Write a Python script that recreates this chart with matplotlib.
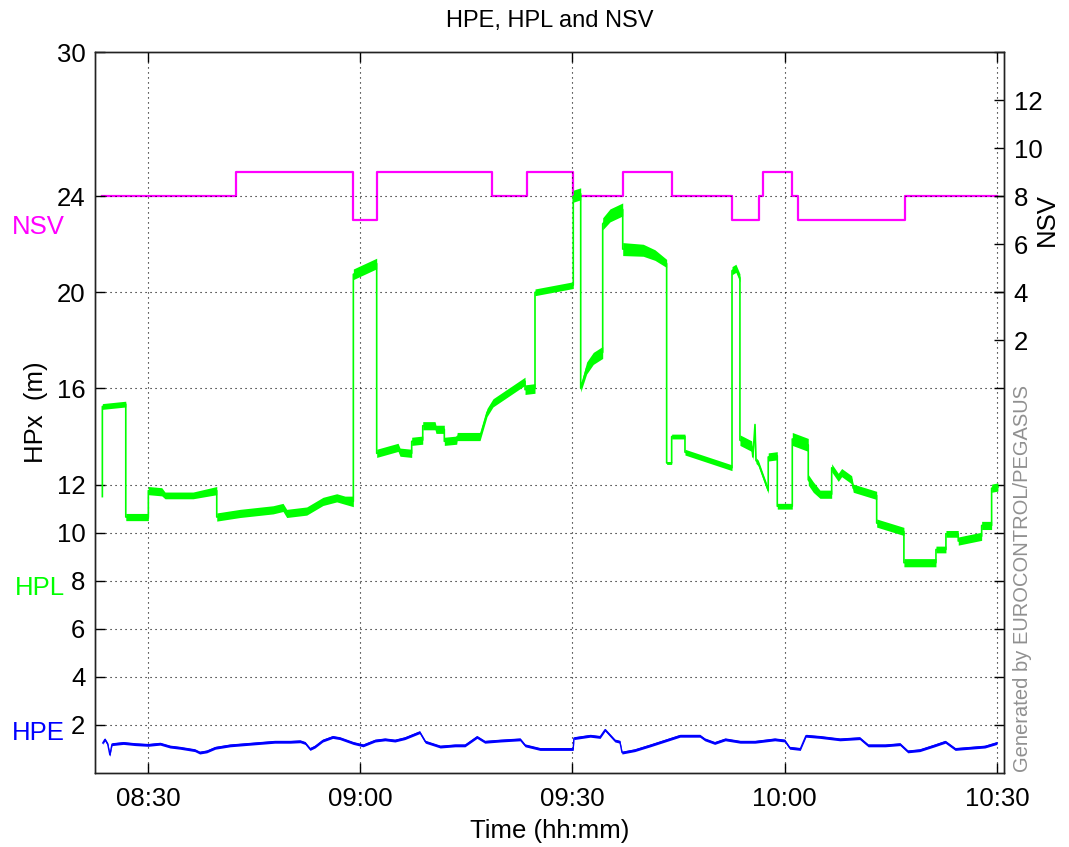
import matplotlib
matplotlib.use('Agg')
import matplotlib.pyplot as plt
import matplotlib.transforms as mtransforms
import numpy as np

plt.rcParams['font.family'] = ['Liberation Sans', 'DejaVu Sans']

# ---------------- data (time in minutes after 08:00) ----------------
title = 'HPE, HPL and NSV'
x_label = 'Time (hh:mm)'
y_label = 'HPx  (m)'
y2_label = 'NSV'
watermark = 'Generated by EUROCONTROL/PEGASUS'
x_tick_labels = ['08:30', '09:00', '09:30', '10:00', '10:30']
y_ticks = [2, 4, 6, 8, 10, 12, 16, 20, 24, 30]
y2_ticks = [2, 4, 6, 8, 10, 12]

# NSV (steps)
nsv_t = [23.5, 42.5, 59.0, 62.3, 78.6, 83.5, 90.1, 97.1, 104.0, 112.5,
         116.3, 116.9, 121.1, 121.9, 137.0, 150.0]
nsv_v = [8, 9, 7, 9, 8, 9, 8, 9, 8, 7, 8, 9, 8, 7, 8, 8]

# HPL (centre of noisy band) and half-width of band
hpl_t = [23.54, 23.54, 26.85, 26.85, 30.04, 30.04, 31.94, 32.4, 36.36, 39.71,
         39.71, 43.0, 47.67, 49.08, 49.6, 52.43, 54.73, 56.67, 57.84, 59.02,
         59.02, 62.32, 62.32, 65.34, 65.62, 67.27, 67.27, 68.83, 68.83, 70.57,
         70.7, 71.88, 71.88, 73.63, 73.7, 76.93, 77.92, 78.76, 83.29, 83.29,
         84.7, 84.7, 90.11, 90.11, 91.16, 91.16, 92.0, 92.94, 94.27, 94.27,
         95.3, 97.1, 97.1, 100.0, 101.66, 103.31, 103.31, 104.02, 104.02, 105.9,
         105.9, 112.55, 112.55, 113.1, 113.67, 113.67, 115.33, 115.5, 115.8, 115.94,
         116.26, 117.67, 117.67, 118.95, 118.95, 121.07, 121.07, 123.33, 123.33, 124.03,
         124.98, 126.64, 126.64, 127.57, 128.05, 129.46, 129.69, 133.0, 133.0, 136.85,
         136.85, 141.38, 141.38, 142.79, 142.79, 144.53, 144.53, 147.84, 147.84, 149.25,
         149.25, 150.14]
hpl_v = [11.5, 15.25, 15.35, 10.65, 10.65, 11.75, 11.7, 11.55, 11.55, 11.75,
         10.65, 10.8, 10.95, 11.05, 10.8, 10.9, 11.3, 11.45, 11.35, 11.3,
         20.75, 21.2, 13.3, 13.55, 13.35, 13.3, 13.8, 13.85, 14.45, 14.45,
         14.3, 14.3, 13.8, 13.85, 14.0, 14.0, 15.0, 15.4, 16.3, 15.95,
         16.0, 20.0, 20.3, 24.0, 24.1, 16.0, 16.85, 17.25, 17.5, 22.85,
         23.2, 23.45, 21.8, 21.75, 21.55, 21.2, 12.9, 12.9, 14.0, 14.0,
         13.35, 12.7, 20.9, 21.0, 20.6, 13.85, 13.6, 13.15, 14.5, 13.0,
         12.9, 11.75, 13.15, 13.2, 11.1, 11.1, 13.9, 13.65, 12.2, 11.9,
         11.6, 11.6, 12.7, 12.3, 12.5, 12.2, 11.85, 11.55, 10.4, 10.05,
         8.75, 8.75, 9.3, 9.3, 9.95, 9.95, 9.65, 9.85, 10.3, 10.3,
         11.85, 11.9]
hpl_w = [0.0, 0.12, 0.12, 0.15, 0.15, 0.17, 0.17, 0.14, 0.14, 0.17,
         0.17, 0.17, 0.17, 0.17, 0.17, 0.17, 0.17, 0.17, 0.17, 0.22,
         0.22, 0.22, 0.17, 0.17, 0.17, 0.17, 0.17, 0.17, 0.17, 0.17,
         0.17, 0.17, 0.17, 0.17, 0.17, 0.17, 0.17, 0.17, 0.17, 0.2,
         0.2, 0.14, 0.14, 0.25, 0.25, 0.15, 0.25, 0.25, 0.25, 0.25,
         0.27, 0.27, 0.27, 0.25, 0.22, 0.17, 0.06, 0.06, 0.1, 0.1,
         0.12, 0.12, 0.17, 0.17, 0.17, 0.22, 0.22, 0.12, 0.0, 0.12,
         0.12, 0.12, 0.17, 0.17, 0.12, 0.12, 0.27, 0.27, 0.22, 0.22,
         0.17, 0.17, 0.17, 0.17, 0.17, 0.17, 0.17, 0.17, 0.17, 0.17,
         0.17, 0.17, 0.14, 0.14, 0.14, 0.14, 0.17, 0.17, 0.17, 0.17,
         0.17, 0.17]

# HPE
hpe_t = [23.6, 23.9, 24.3, 24.6, 24.9, 26.5, 28.2, 30.0, 31.7, 33.1,
         34.5, 36.6, 37.3, 38.3, 39.5, 41.6, 43.7, 45.8, 47.9, 50.1,
         51.5, 52.2, 52.9, 53.6, 54.7, 56.1, 57.1, 59.0, 60.4, 62.1,
         63.5, 64.9, 66.3, 68.4, 69.2, 71.3, 73.4, 74.8, 76.5, 77.6,
         79.8, 82.6, 83.3, 85.4, 88.2, 90.1, 90.2, 92.5, 93.9, 94.6,
         96.0, 96.7, 97.0, 98.8, 101.0, 103.1, 105.2, 108.0, 108.7, 110.1,
         111.6, 113.7, 115.8, 118.6, 120.0, 120.7, 122.2, 123.0, 125.0, 127.8,
         130.6, 131.8, 134.2, 136.3, 137.4, 139.1, 141.2, 142.7, 144.1, 146.2,
         148.3, 150.0]
hpe_v = [1.25, 1.4, 1.2, 0.75, 1.2, 1.25, 1.2, 1.17, 1.22, 1.1,
         1.05, 0.95, 0.85, 0.9, 1.05, 1.15, 1.2, 1.25, 1.3, 1.3,
         1.32, 1.25, 1.0, 1.1, 1.35, 1.5, 1.45, 1.25, 1.15, 1.35,
         1.4, 1.35, 1.45, 1.7, 1.3, 1.1, 1.15, 1.15, 1.5, 1.3,
         1.35, 1.4, 1.15, 1.0, 1.0, 1.0, 1.45, 1.55, 1.5, 1.8,
         1.35, 1.3, 0.85, 0.95, 1.15, 1.35, 1.55, 1.55, 1.4, 1.25,
         1.4, 1.3, 1.3, 1.4, 1.35, 1.05, 1.0, 1.55, 1.5, 1.4,
         1.45, 1.15, 1.15, 1.2, 0.9, 0.95, 1.15, 1.3, 1.0, 1.05,
         1.1, 1.25]
hpe_noise = 0.06

# ---------------- figure ----------------
def to_min(s):
    h, m = s.split(':')
    return (int(h) - 8) * 60 + int(m)

x_ticks = [to_min(s) for s in x_tick_labels]

GREEN = '#00FF00'
MAGENTA = '#FF00FF'
BLUE = '#0000FF'
FS = 18.5

fig = plt.figure(figsize=(10.69, 8.47), dpi=100)
ax = fig.add_axes([95 / 1069, 74 / 847, 909 / 1069, 721 / 847])
ax2 = ax.twinx()
ax.set_zorder(2)
ax.patch.set_visible(False)
ax2.set_zorder(1)

ax.set_xlim(22.5, 151.0)
ax.set_ylim(0, 30)
ax2.set_ylim(-16, 14)

# grid
for xt in x_ticks:
    ax.axvline(xt, color='black', lw=0.8, ls=(0, (1, 3.5)), zorder=0)
for yt in y_ticks[:-1]:
    ax.axhline(yt, color='black', lw=0.8, ls=(0, (1, 3.5)), zorder=0)

# HPL band + line
t = np.array(hpl_t)
v = np.array(hpl_v)
w = np.array(hpl_w)
ax.fill_between(t, v - w, v + w, color=GREEN, lw=0, zorder=2)
ax.plot(t, v, color=GREEN, lw=1.2, zorder=3)

# HPE
he = np.array(hpe_v)
ax.fill_between(hpe_t, he - hpe_noise, he + hpe_noise, color=BLUE, lw=0, zorder=2)
ax.plot(hpe_t, hpe_v, color=BLUE, lw=1.0, zorder=3)

# NSV
ax2.plot(nsv_t, nsv_v, color=MAGENTA, lw=1.6, drawstyle='steps-post')

# ticks
ax.set_xticks(x_ticks)
ax.set_xticklabels(x_tick_labels)
ax.set_yticks(y_ticks)
ax.set_yticklabels([str(y) for y in y_ticks])
ax.tick_params(direction='in', length=7, width=1, top=True, right=True,
               labelsize=FS, pad=7)
ax.tick_params(axis='x', pad=10)
ax2.set_yticks(y2_ticks)
ax2.tick_params(direction='in', length=7, width=1, labelsize=FS, pad=7)
for a in (ax, ax2):
    for s in a.spines.values():
        s.set_linewidth(1.0)
        s.set_color('#222222')

ax.set_title(title, fontsize=17, pad=18)
ax.set_xlabel(x_label, fontsize=FS, labelpad=6)
ax.set_ylabel(y_label, fontsize=FS, labelpad=6)
ax2.set_ylabel(y2_label, fontsize=FS, rotation=90)
ax2.yaxis.set_label_coords(1.034, 0.767)

# coloured series labels on the left
trans = mtransforms.blended_transform_factory(ax.transAxes, ax.transData)
ax.text(-0.033, 22.7, 'NSV', color=MAGENTA, fontsize=FS, ha='right', va='center', transform=trans)
ax.text(-0.033, 7.7, 'HPL', color=GREEN, fontsize=FS, ha='right', va='center', transform=trans)
ax.text(-0.033, 1.66, 'HPE', color=BLUE, fontsize=FS, ha='right', va='center', transform=trans)

fig.text(1022 / 1069, (847 - 772) / 847, watermark, rotation=90, color='#909090',
         fontsize=14.5, ha='center', va='bottom')

fig.savefig('out.png', dpi=100)
